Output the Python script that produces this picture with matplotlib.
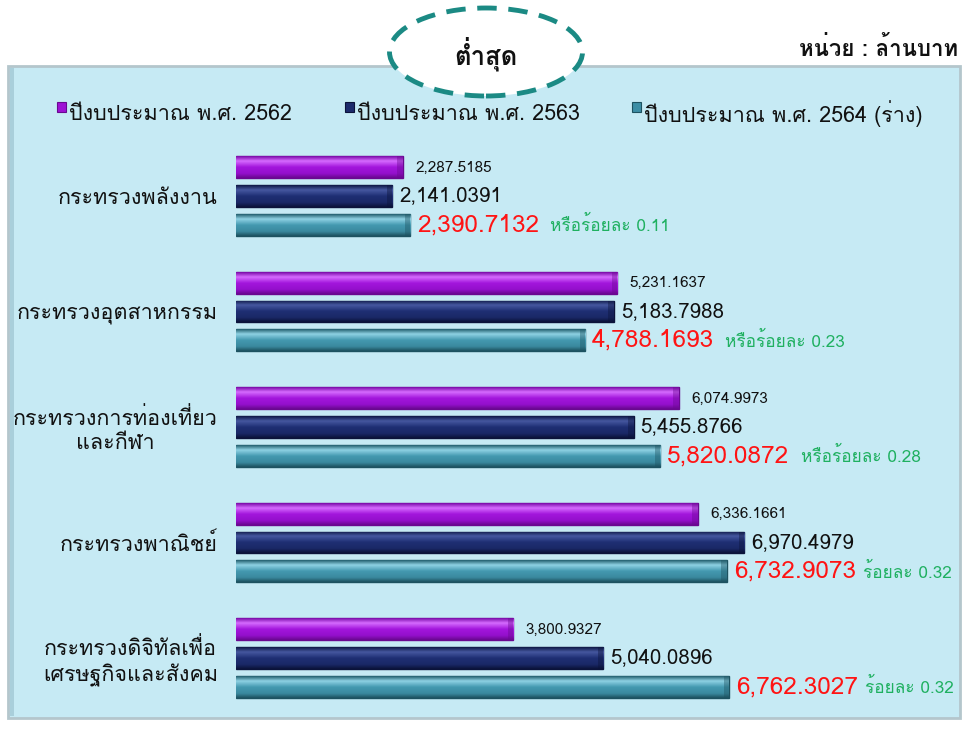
import matplotlib
matplotlib.use("Agg")
import numpy as np
import matplotlib.pyplot as plt
from matplotlib import font_manager
from matplotlib.colors import LinearSegmentedColormap
from matplotlib.patches import Rectangle, Ellipse

# data
ministries = ["กระทรวงพลังงาน", "กระทรวงอุตสาหกรรม", "กระทรวงการท่องเที่ยว\nและกีฬา",
              "กระทรวงพาณิชย์", "กระทรวงดิจิทัลเพื่อ\nเศรษฐกิจและสังคม"]
budget_2562 = [2287.5185, 5231.1637, 6074.9973, 6336.1661, 3800.9327]
budget_2563 = [2141.0391, 5183.7988, 5455.8766, 6970.4979, 5040.0896]
budget_2564 = [2390.7132, 4788.1693, 5820.0872, 6732.9073, 6762.3027]
share_text = ["หรือร้อยละ 0.11", "หรือร้อยละ 0.23", "หรือร้อยละ 0.28", "ร้อยละ 0.32", "ร้อยละ 0.32"]
series_names = ["ปีงบประมาณ พ.ศ. 2562", "ปีงบประมาณ พ.ศ. 2563", "ปีงบประมาณ พ.ศ. 2564 (ร่าง)"]
title_text = "ต่ำสุด"
unit_text = "หน่วย : ล้านบาท"

installed = {f.name for f in font_manager.fontManager.ttflist}
wanted = ["Loma", "Garuda", "Noto Sans Thai Looped", "Noto Sans Thai"]
plt.rcParams["font.family"] = [f for f in wanted if f in installed] + ["DejaVu Sans"]

W, H = 964, 729
fig = plt.figure(figsize=(W / 100, H / 100), dpi=100)


def fx(px):
    return px / W


def fy(py):
    return 1 - py / H


# light blue panel
fig.patches.append(Rectangle((fx(8), fy(718)), fx(952), 652 / H, transform=fig.transFigure,
                             facecolor="#c6eaf4", edgecolor="#b4c6cc", lw=2, zorder=-5))
fig.patches.append(Rectangle((fx(10), fy(716)), fx(4), 648 / H, transform=fig.transFigure,
                             facecolor="#a9cfdb", lw=0, zorder=-4))

ax = fig.add_axes([fx(236), fy(715.75), fx(708), 577.5 / H])
ax.set_facecolor("none")
xmax = 708 / 0.0729

colors = ["#9d12d4", "#1c2b6c", "#3c8ea5"]
shades = [["#7a0aa8", "#d66cff", "#a316dc", "#9410cc", "#6a0890"],
          ["#0e1846", "#4658a0", "#1f2f74", "#1a2866", "#0b133a"],
          ["#23606f", "#8fd2e4", "#4499b0", "#3a899e", "#1d5260"]]
offsets = [-0.247, 0, 0.247]
bh = 0.19
series = [budget_2562, budget_2563, budget_2564]
grad = np.linspace(0, 1, 64).reshape(-1, 1)

for k, vals in enumerate(series):
    ys = [i + offsets[k] for i in range(len(vals))]
    cmap = LinearSegmentedColormap.from_list(
        f"bar{k}", list(zip([0, 0.22, 0.5, 0.8, 1], shades[k])))
    bars = ax.barh(ys, vals, height=bh, color=colors[k], edgecolor=shades[k][4], lw=1.0,
                   zorder=2)
    for r in bars:
        x0, y0 = r.get_xy()
        im = ax.imshow(grad, cmap=cmap, aspect="auto", interpolation="bilinear",
                       extent=(x0, x0 + r.get_width(), y0 + r.get_height(), y0), zorder=2.5)
        im.set_clip_path(r)
        # darker bevel at the bar end
        ax.add_patch(Rectangle((x0 + r.get_width() - 75, y0), 75, r.get_height(),
                               facecolor=shades[k][4], alpha=0.4, lw=0, zorder=2.6))

ax.set_xlim(0, xmax)
ax.set_ylim(4.5, -0.5)
for s in ax.spines.values():
    s.set_visible(False)
ax.set_xticks([])
ax.set_yticks(range(len(ministries)), ministries)
ax.tick_params(axis="y", length=0, pad=13, labelsize=15.5, labelcolor="#111111")
for lab in ax.get_yticklabels():
    lab.set_multialignment("center")

for i in range(len(ministries)):
    ax.annotate(f"{budget_2562[i]:,.4f}", (budget_2562[i], i + offsets[0]), xytext=(9, 0),
                textcoords="offset points", va="center", ha="left", fontsize=11, color="#111111")
    ax.annotate(f"{budget_2563[i]:,.4f}", (budget_2563[i], i + offsets[1]), xytext=(5, 0),
                textcoords="offset points", va="center", ha="left", fontsize=14.8, color="#111111")
    red = ax.annotate(f"{budget_2564[i]:,.4f}", (budget_2564[i], i + offsets[2]), xytext=(5, 0),
                      textcoords="offset points", va="center", ha="left", fontsize=17.6,
                      color="#ff1414")
    gap = 8 if share_text[i].startswith("หรือ") else 5
    ax.annotate(share_text[i], xy=(1, 0.45), xycoords=red, xytext=(gap, 0),
                textcoords="offset points", va="center", ha="left", fontsize=12.4,
                color="#1fb060")

# legend row
leg_x = [57, 345, 632]
for k, name in enumerate(series_names):
    fig.patches.append(Rectangle((fx(leg_x[k]), fy(112)), fx(9), 10 / H, transform=fig.transFigure,
                                 facecolor=colors[k], edgecolor=shades[k][4], lw=0.8, zorder=1))
    fig.text(fx(leg_x[k] + 12), fy(114), name, ha="left", va="center", fontsize=15.5,
             color="#111111")

# dashed ellipse title
fig.patches.append(Ellipse((fx(486), fy(52)), fx(193), 88 / H, transform=fig.transFigure,
                           facecolor="white", edgecolor="#1b8a84", lw=3.5,
                           linestyle=(0, (4, 2.4)), zorder=2))
fig.text(fx(486), fy(54), title_text, ha="center", va="center", fontsize=18.5,
         fontweight="bold", color="#111111", zorder=3)
fig.text(fx(958), fy(48), unit_text, ha="right", va="center", fontsize=16,
         fontweight="bold", color="#111111")

fig.savefig("out.png", dpi=100)
